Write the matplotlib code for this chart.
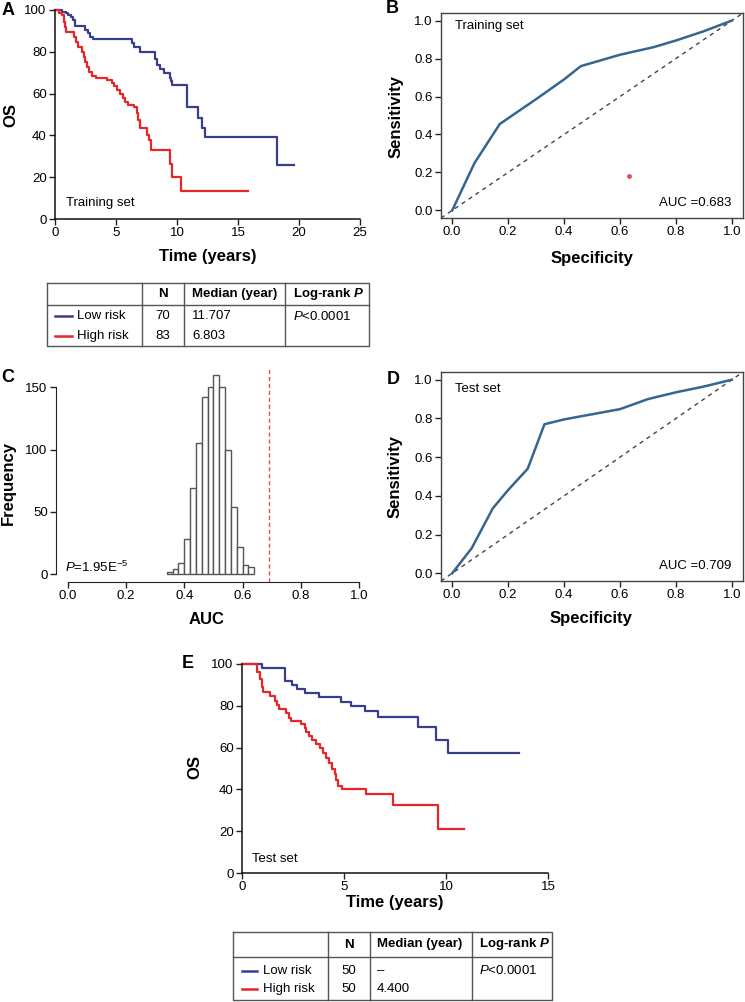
import numpy as np
import matplotlib
matplotlib.use('Agg')
import matplotlib.pyplot as plt

plt.rcParams['font.family'] = ['Liberation Sans', 'DejaVu Sans']
plt.rcParams['mathtext.fontset'] = 'custom'
plt.rcParams['mathtext.rm'] = 'Liberation Sans'
plt.rcParams['mathtext.it'] = 'Liberation Sans:italic'
plt.rcParams['mathtext.bf'] = 'Liberation Sans:italic:bold'

BLUE = '#393d8e'
RED = '#e8262a'
ROC = '#356690'

# A: training set KM curves (years, OS %)
train_low_t = [0, 0.55, 0.9, 1.1, 1.3, 1.45, 1.65, 2.45, 2.7, 2.9, 3.15, 6.3, 6.5, 7.0,
               8.2, 8.4, 8.6, 8.95, 9.4, 9.5, 9.6, 10.85, 11.75, 12.05, 12.3, 18.2, 19.6]
train_low_s = [100, 99, 98.4, 97.5, 96.5, 95.2, 92.4, 90.4, 88.9, 87.3, 86, 84.4, 82.5, 80.1,
               76.5, 73.7, 71.6, 69.7, 67.3, 66.0, 64, 53.7, 48.2, 43.4, 39.1, 26, 26]
train_high_t = [0, 0.35, 0.55, 0.75, 0.8, 0.9, 1.55, 1.7, 1.85, 2.2, 2.35, 2.45, 2.6, 2.75,
                3.0, 3.4, 4.25, 4.65, 4.85, 5.05, 5.3, 5.55, 5.75, 6.0, 6.45, 6.7, 6.8, 6.95,
                7.55, 7.7, 7.9, 9.45, 9.55, 10.35, 15.85]
train_high_s = [100, 98.8, 97.6, 94.4, 92, 89.6, 87.3, 84.9, 82.5, 80, 77.7, 75.3, 72.9, 70.5,
                68.5, 67.4, 66.6, 65.3, 63.7, 61.8, 59.7, 57.8, 56.2, 54.6, 53.5, 50.6, 47.5, 43.4,
                40.2, 37.8, 33.0, 26.5, 20.0, 13.2, 13.2]

# B: training ROC
rocB_x = [0, 0.08, 0.17, 0.3, 0.4, 0.46, 0.6, 0.72, 0.8, 0.9, 1.0]
rocB_y = [0, 0.25, 0.455, 0.586, 0.69, 0.76, 0.82, 0.86, 0.895, 0.944, 1.0]
rocB_dot = (0.634, 0.181)

# C: permutation AUC histogram
hist_edges = [0.34, 0.36, 0.38, 0.40, 0.42, 0.44, 0.46, 0.48, 0.50, 0.52, 0.54, 0.56,
              0.58, 0.60, 0.62, 0.64]
hist_counts = [2, 4, 9, 28, 69, 105, 142, 150, 160, 150, 100, 54, 22, 7, 6]
auc_obs = 0.69

# D: test ROC
rocD_x = [0, 0.07, 0.145, 0.2, 0.27, 0.33, 0.4, 0.6, 0.7, 0.8, 0.9, 1.0]
rocD_y = [0, 0.13, 0.335, 0.43, 0.54, 0.77, 0.795, 0.848, 0.9, 0.935, 0.965, 1.0]

# E: test set KM curves
test_low_t = [0, 0.98, 2.1, 2.45, 2.7, 3.07, 3.77, 4.84, 5.33, 6.03, 6.67, 8.64, 9.5, 10.08, 13.6]
test_low_s = [100, 98, 92, 90, 88, 86, 84, 82, 80, 77.3, 74.6, 70, 63.8, 57.4, 57.4]
test_high_t = [0, 0.74, 0.9, 1.0, 1.05, 1.39, 1.64, 1.72, 1.8, 2.18, 2.3, 2.38, 2.9, 3.07, 3.16,
               3.28, 3.44, 3.61, 3.82, 3.98, 4.1, 4.26, 4.43, 4.54, 4.62, 4.7, 4.92, 6.07, 7.41,
               9.59, 10.87]
test_high_s = [100, 96, 93, 89, 86.7, 84.7, 82.4, 80.4, 78.3, 76.4, 74.3, 72.8, 71.2, 69.6, 67.6,
               65.5, 63.6, 61.7, 59.6, 57.2, 54.8, 52.4, 50, 47.6, 44.4, 41.5, 40, 37.7, 32.4,
               21.2, 21.2]

tableA = [['Low risk', '70', '11.707', '$P$<0.0001'], ['High risk', '83', '6.803', '']]
tableE = [['Low risk', '50', '–', '$P$<0.0001'], ['High risk', '50', '4.400', '']]

FS = 9.5
W, H = 745, 1002
fig = plt.figure(figsize=(W / 100, H / 100), dpi=100)

ov = fig.add_axes([0, 0, 1, 1])
ov.set_xlim(0, W)
ov.set_ylim(H, 0)
ov.axis('off')


def px_axes(l, t, r, b):
    return fig.add_axes([l / W, 1 - b / H, (r - l) / W, (b - t) / H])


def style_ticks(ax):
    ax.tick_params(direction='out', length=4, width=1, labelsize=FS, pad=2, color='#222')


def km_axes(ax, xmax, xticks):
    ax.set_xlim(0, xmax)
    ax.set_ylim(0, 100)
    ax.set_xticks(xticks)
    ax.set_yticks([0, 20, 40, 60, 80, 100])
    for s in ['top', 'right']:
        ax.spines[s].set_visible(False)
    for s in ['left', 'bottom']:
        ax.spines[s].set_linewidth(1.1)
        ax.spines[s].set_color('#111')
    style_ticks(ax)


def roc_axes(ax):
    ax.set_xlim(-0.04, 1.04)
    ax.set_ylim(-0.04, 1.04)
    ticks = [0, 0.2, 0.4, 0.6, 0.8, 1.0]
    ax.set_xticks(ticks)
    ax.set_yticks(ticks)
    ax.set_xticklabels(['%.1f' % v for v in ticks])
    ax.set_yticklabels(['%.1f' % v for v in ticks])
    for s in ax.spines.values():
        s.set_color('#444')
        s.set_linewidth(1)
    style_ticks(ax)
    ax.axline((0, 0), (1, 1), color='#444', lw=1, ls=(0, (3, 3)))


# ---- A
axA = px_axes(55, 10, 360, 219)
km_axes(axA, 25, [0, 5, 10, 15, 20, 25])
axA.step(train_low_t, train_low_s, where='post', color=BLUE, lw=1.6, clip_on=False)
axA.step(train_high_t, train_high_s, where='post', color=RED, lw=1.6, clip_on=False)
axA.text(0.9, 7.6, 'Training set', fontsize=FS, va='center')

# ---- B
axB = px_axes(441, 13, 743, 218)
roc_axes(axB)
axB.plot(rocB_x, rocB_y, color=ROC, lw=1.8)
axB.plot([rocB_dot[0]], [rocB_dot[1]], 'o', color='#e05050', ms=2.5)
axB.text(0.01, 0.97, 'Training set', fontsize=FS, va='center')
axB.text(1.0, 0.04, 'AUC =0.683', fontsize=FS, va='center', ha='right')

# ---- C
axC = px_axes(56, 367, 371, 582)
axC.set_xlim(-0.04, 1.04)
axC.set_ylim(-6.4, 166.4)
axC.bar(hist_edges[:-1], hist_counts, width=np.diff(hist_edges), align='edge',
        color='white', edgecolor='#555', lw=1)
axC.axvline(auc_obs, color='#e05050', lw=1, ls=(0, (3, 2)))
for s in ['top', 'right']:
    axC.spines[s].set_visible(False)
axC.spines['left'].set_bounds(0, 150)
axC.spines['bottom'].set_bounds(0, 1)
for s in ['left', 'bottom']:
    axC.spines[s].set_color('#222')
axC.set_xticks([0, 0.2, 0.4, 0.6, 0.8, 1.0])
axC.set_xticklabels(['0.0', '0.2', '0.4', '0.6', '0.8', '1.0'])
axC.set_yticks([0, 50, 100, 150])
style_ticks(axC)
axC.text(-0.01, 5.6, '$P$=1.95E$^{-5}$', fontsize=FS, va='center')

# ---- D
axD = px_axes(441, 372, 743, 581)
roc_axes(axD)
axD.plot(rocD_x, rocD_y, color=ROC, lw=1.8)
axD.text(0.01, 0.954, 'Test set', fontsize=FS, va='center')
axD.text(1.0, 0.036, 'AUC =0.709', fontsize=FS, va='center', ha='right')

# ---- E
axE = px_axes(242, 664, 548, 873)
km_axes(axE, 15, [0, 5, 10, 15])
axE.step(test_low_t, test_low_s, where='post', color=BLUE, lw=1.6, clip_on=False)
axE.step(test_high_t, test_high_s, where='post', color=RED, lw=1.6, clip_on=False)
axE.text(0.5, 6.7, 'Test set', fontsize=FS, va='center')

# ---- axis labels and panel letters
lab = dict(fontsize=12, fontweight='bold', ha='center', va='center')
ov.text(11, 115, 'OS', rotation=90, **lab)
ov.text(208, 257, 'Time (years)', **lab)
ov.text(396, 117, 'Sensitivity', rotation=90, **lab)
ov.text(592, 259, 'Specificity', **lab)
ov.text(8, 483, 'Frequency', rotation=90, **lab)
ov.text(207, 619, 'AUC', **lab)
ov.text(395, 477, 'Sensitivity', rotation=90, **lab)
ov.text(591, 619, 'Specificity', **lab)
ov.text(195, 767, 'OS', rotation=90, **lab)
ov.text(395, 903, 'Time (years)', **lab)

let = dict(fontsize=13, fontweight='bold', ha='center', va='center')
for ch, x, y in [('A', 8, 10), ('B', 392, 8), ('C', 8, 377), ('D', 393, 379), ('E', 188, 664)]:
    ov.text(x, y, ch, **let)


def draw_table(rows, left, top, right, hbot, bottom, cols, row_y, line_x, name_x,
               med_x, p_x):
    lc = '#555'
    ov.plot([left, right, right, left, left], [top, top, bottom, bottom, top], color=lc, lw=1)
    ov.plot([left, right], [hbot, hbot], color=lc, lw=1)
    for c in cols:
        ov.plot([c, c], [top, bottom], color=lc, lw=1)
    hy = (top + hbot) / 2
    n_x = (cols[0] + cols[1]) / 2
    ov.text(n_x, hy, 'N', fontsize=FS, fontweight='bold', ha='center', va='center')
    ov.text(med_x, hy, 'Median (year)', fontsize=FS, fontweight='bold', va='center')
    ov.text(p_x, hy, r'Log-rank $\mathbf{P}$', fontsize=FS, fontweight='bold', va='center')
    for (name, n, med, p), y, col in zip(rows, row_y, [BLUE, RED]):
        ov.plot(line_x, [y, y], color=col, lw=1.8)
        ov.text(name_x, y, name, fontsize=FS, va='center')
        ov.text(n_x, y, n, fontsize=FS, ha='center', va='center')
        ov.text(med_x, y, med, fontsize=FS, va='center')
        if p:
            ov.text(p_x, y, p, fontsize=FS, va='center')


draw_table(tableA, 47, 283, 369, 305, 346, [142, 184, 285], [316, 336],
           [55, 72], 77, 192, 293)
draw_table(tableE, 233, 932, 552, 957, 1000, [328, 370, 472], [971, 989],
           [242, 257], 263, 377, 479)

fig.savefig('out.png', dpi=100)
